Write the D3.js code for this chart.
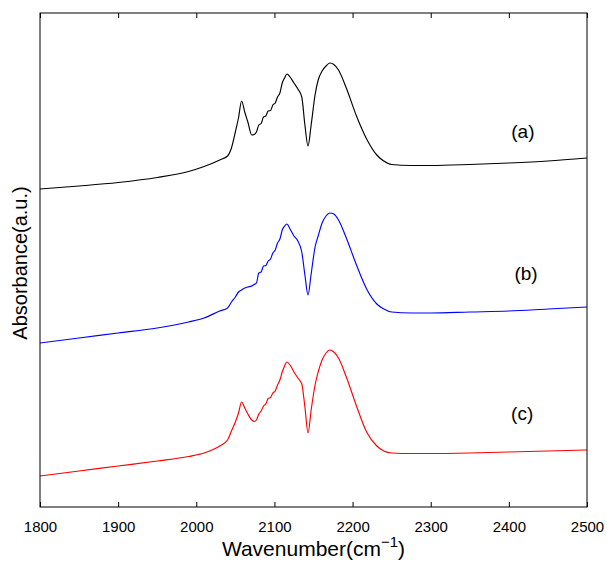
<!DOCTYPE html>
<html>
<head>
<meta charset="utf-8">
<script src="https://cdn.jsdelivr.net/npm/d3@7"></script>
<style>
  body { margin: 0; background: #fff; }
  text { font-family: Arial, "Liberation Sans", sans-serif; fill: #000; }
</style>
</head>
<body>
<svg id="chart" width="607" height="567"></svg>
<script>
// wavenumbers (cm-1) shared by the three spectra
var wavenumber = [1800, 1850, 1900, 1950, 1990, 2010, 2030, 2040, 2045, 2050, 2054, 2058, 2062, 2066,
  2071, 2074, 2077, 2080, 2083, 2086, 2089, 2092, 2095, 2098, 2101, 2104, 2107, 2110, 2113, 2116,
  2120, 2125, 2130, 2135, 2139, 2143, 2147, 2152, 2156, 2161, 2166, 2171, 2176, 2182, 2192, 2205,
  2218, 2231, 2240, 2250, 2275, 2300, 2350, 2400, 2450, 2500];

// absorbance (a.u., curves already stacked)
var specA = [3.18, 3.21, 3.245, 3.295, 3.355, 3.405, 3.47, 3.51, 3.59, 3.75, 3.89, 4.06, 3.95, 3.85,
  3.72, 3.725, 3.75, 3.82, 3.835, 3.90, 3.91, 3.96, 3.965, 4.02, 4.04, 4.10, 4.14, 4.24, 4.29, 4.33,
  4.30, 4.24, 4.18, 4.10, 3.82, 3.61, 3.82, 4.12, 4.27, 4.36, 4.41, 4.44, 4.425, 4.37, 4.19, 3.91,
  3.68, 3.52, 3.46, 3.425, 3.415, 3.415, 3.425, 3.44, 3.46, 3.49];
var specB = [1.64, 1.69, 1.74, 1.79, 1.85, 1.89, 1.96, 1.99, 2.05, 2.10, 2.15, 2.17, 2.19, 2.20,
  2.21, 2.225, 2.24, 2.34, 2.35, 2.41, 2.415, 2.46, 2.48, 2.54, 2.57, 2.64, 2.68, 2.77, 2.81, 2.83,
  2.78, 2.71, 2.66, 2.55, 2.32, 2.12, 2.33, 2.60, 2.71, 2.84, 2.91, 2.94, 2.93, 2.87, 2.69, 2.42,
  2.18, 2.03, 1.98, 1.95, 1.94, 1.94, 1.95, 1.96, 1.98, 2.00];
var specC = [0.31, 0.36, 0.41, 0.46, 0.505, 0.54, 0.61, 0.67, 0.76, 0.85, 0.94, 1.05, 0.99, 0.93,
  0.87, 0.855, 0.87, 0.93, 0.96, 1.01, 1.03, 1.085, 1.095, 1.14, 1.16, 1.22, 1.27, 1.35, 1.41, 1.45,
  1.42, 1.35, 1.29, 1.23, 1.00, 0.74, 0.97, 1.22, 1.35, 1.47, 1.54, 1.57, 1.55, 1.49, 1.30, 1.01,
  0.75, 0.61, 0.56, 0.54, 0.535, 0.535, 0.54, 0.55, 0.56, 0.57];

var seriesNames = ["(a)", "(b)", "(c)"];
var seriesColors = ["#000000", "#0000ff", "#ff0000"];
var labelPos = [[2418, 3.69], [2422, 2.27], [2417, 0.87]]; // [wavenumber, absorbance]
var xTicks = [1800, 1900, 2000, 2100, 2200, 2300, 2400, 2500];

var margin = {top: 13, right: 20, bottom: 60, left: 40};
var width = 607 - margin.left - margin.right,
    height = 567 - margin.top - margin.bottom;

var svg = d3.select("#chart");
var g = svg.append("g")
  .attr("transform", "translate(" + margin.left + "," + margin.top + ")");

var x = d3.scaleLinear().domain([1800, 2500]).range([0, width]);
var y = d3.scaleLinear().domain([0, 4.94]).range([height, 0]);

var line = d3.line()
  .x(function (d) { return x(d[0]); })
  .y(function (d) { return y(d[1]); })
  .curve(d3.curveMonotoneX);

[specA, specB, specC].forEach(function (spec, i) {
  g.append("path")
    .datum(wavenumber.map(function (w, j) { return [w, spec[j]]; }))
    .attr("fill", "none")
    .attr("stroke", seriesColors[i])
    .attr("stroke-width", 1.15)
    .attr("d", line);

  g.append("text")
    .attr("x", x(labelPos[i][0]))
    .attr("y", y(labelPos[i][1]))
    .attr("text-anchor", "middle")
    .style("font-size", "19px")
    .text(seriesNames[i]);
});

// frame
g.append("rect")
  .attr("width", width)
  .attr("height", height)
  .attr("fill", "none")
  .attr("stroke", "#000")
  .attr("stroke-width", 1);

// bottom axis, inward ticks
var xAxis = g.append("g")
  .attr("transform", "translate(0," + height + ")")
  .call(d3.axisBottom(x).tickValues(xTicks).tickSizeInner(-5).tickSizeOuter(0).tickPadding(14).tickFormat(d3.format("d")));
xAxis.select(".domain").remove();
xAxis.selectAll("text").style("font-size", "15px");

// top ticks only
var xTop = g.append("g")
  .call(d3.axisTop(x).tickValues(xTicks).tickSizeInner(-5).tickSizeOuter(0).tickFormat(""));
xTop.select(".domain").remove();

// axis titles
var xt = svg.append("text")
  .attr("x", margin.left + width / 2)
  .attr("y", 556)
  .attr("text-anchor", "middle")
  .style("font-size", "21px");
xt.append("tspan").text("Wavenumber(cm");
xt.append("tspan").attr("dy", -9).style("font-size", "15px").text("\u22121");
xt.append("tspan").attr("dy", 9).text(")");

svg.append("text")
  .attr("transform", "translate(27,263) rotate(-90)")
  .attr("text-anchor", "middle")
  .style("font-size", "20px")
  .text("Absorbance(a.u.)");
</script>
</body>
</html>
